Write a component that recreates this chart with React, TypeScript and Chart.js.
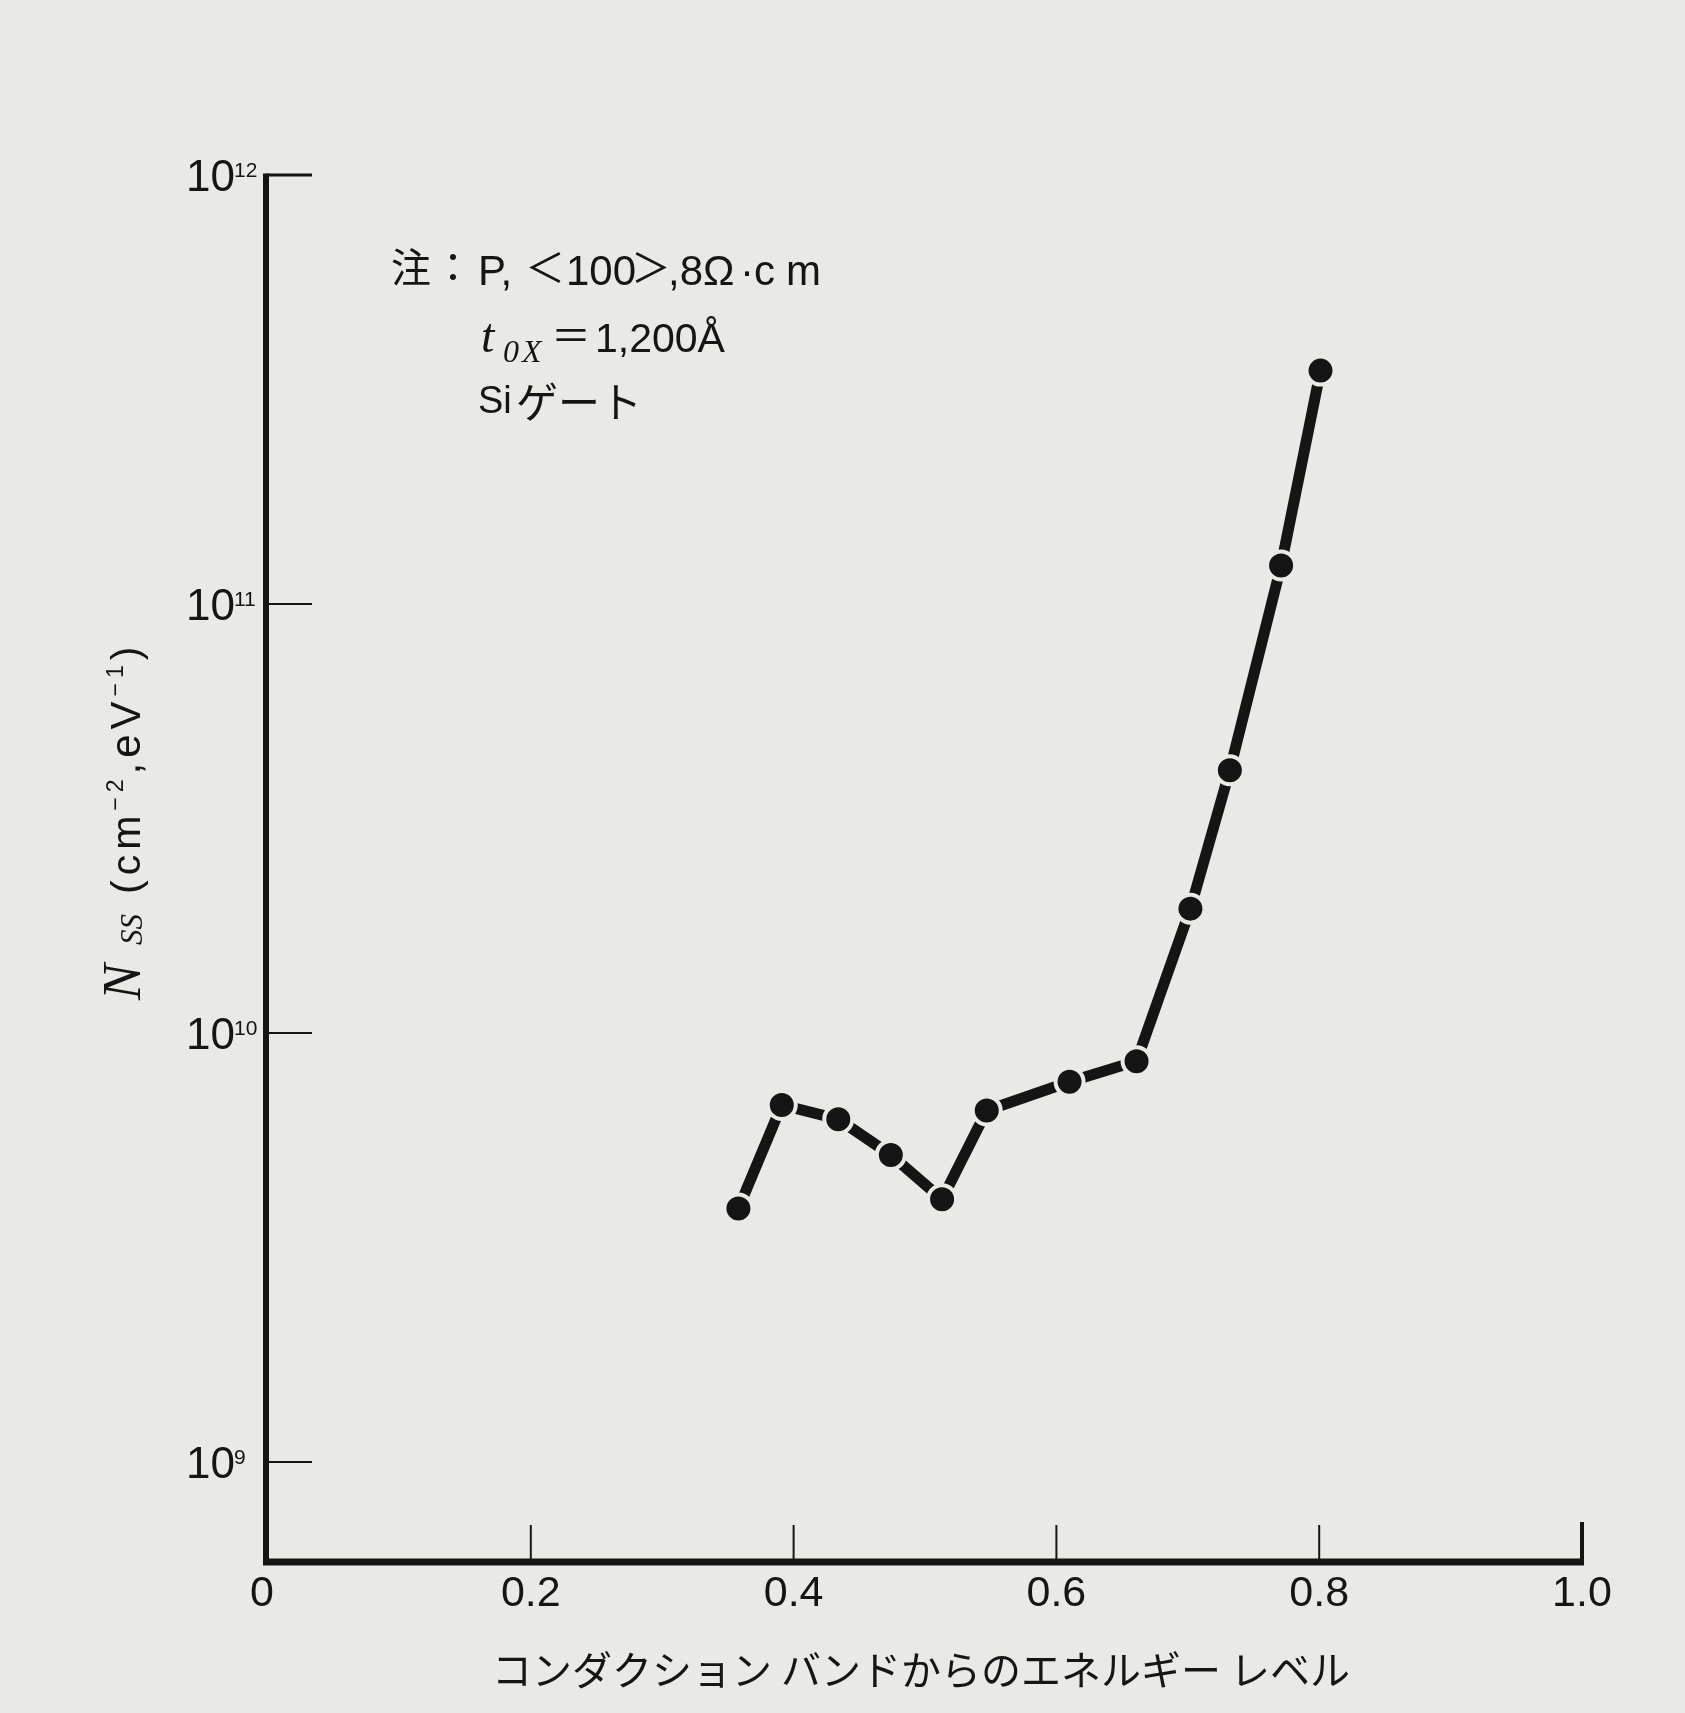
import React, { useEffect, useRef } from "react";
import { Chart, registerables } from "chart.js";

Chart.register(...registerables);

// ---- data ----
const energyLevels = [0.358, 0.391, 0.434, 0.474, 0.513, 0.547, 0.61, 0.661, 0.702, 0.732, 0.771, 0.801];
const nssValues = [3.9e9, 6.8e9, 6.3e9, 5.2e9, 4.1e9, 6.6e9, 7.7e9, 8.6e9, 1.95e10, 4.1e10, 1.23e11, 3.5e11];
const xTickValues = [0, 0.2, 0.4, 0.6, 0.8, 1.0];
const xTickLabels = ["0", "0.2", "0.4", "0.6", "0.8", "1.0"];
const yTickExponents = [9, 10, 11, 12];
const yMin = 5.85e8;
const yMax = 1e12;
const xAxisTitle = "コンダクション バンドからのエネルギー レベル";

// ---- style ----
const PAPER = "#e9e9e6";
const INK = "#151515";
const SANS = "'Liberation Sans', 'Noto Sans CJK JP', sans-serif";
const CJK = "'Noto Sans CJK JP', 'Liberation Sans', sans-serif";
const SERIF = "'Liberation Serif', 'DejaVu Serif', serif";

type Piece = { text: string; font: string; x: number; y: number; spacing?: number };

const notePieces: Piece[] = [
  { text: "注", font: `40px ${CJK}`, x: 391, y: 282 },
  { text: "：", font: `40px ${CJK}`, x: 433, y: 282 },
  { text: "P,", font: `42px ${SANS}`, x: 478, y: 285 },
  { text: "＜", font: `40px ${CJK}`, x: 525, y: 282 },
  { text: "100", font: `42px ${SANS}`, x: 566, y: 285 },
  { text: "＞", font: `40px ${CJK}`, x: 631, y: 282 },
  { text: ",8Ω", font: `42px ${SANS}`, x: 668, y: 285 },
  { text: "·c", font: `42px ${SANS}`, x: 740, y: 285 },
  { text: "m", font: `42px ${SANS}`, x: 786, y: 285 },
  { text: "t", font: `italic 48px ${SERIF}`, x: 481, y: 352 },
  { text: "0X", font: `italic 32px ${SERIF}`, x: 503, y: 362, spacing: 3 },
  { text: "＝", font: `40px ${CJK}`, x: 551, y: 350 },
  { text: "1,200Å", font: `41px ${SANS}`, x: 595, y: 352 },
  { text: "Si", font: `38px ${SANS}`, x: 478, y: 413 },
  { text: "ゲート", font: `42px ${CJK}`, x: 516, y: 418 },
];

// y-axis title: N and SS at given starts (page y, text runs upward), the rest laid out in sequence
const yTitleHead = [
  { text: "N", font: `italic 54px ${SERIF}`, start: 1000, v: 0 },
  { text: "SS", font: `italic 31px ${SERIF}`, start: 945, v: 2 },
];
const yTitleTailStart = 894;
const yTitleTail = [
  { text: "(cm", font: `41px ${SANS}`, v: 0 },
  { text: "−2", font: `23px ${SANS}`, v: -17 },
  { text: ",eV", font: `42px ${SANS}`, v: 0 },
  { text: "−1", font: `23px ${SANS}`, v: -17 },
  { text: ")", font: `41px ${SANS}`, v: 0 },
];

const decorPlugin = {
  id: "decor",
  beforeDraw(chart: any) {
    const ctx = chart.ctx;
    ctx.save();
    ctx.fillStyle = PAPER;
    ctx.fillRect(0, 0, chart.width, chart.height);
    ctx.restore();
  },
  beforeDatasetsDraw(chart: any) {
    const { ctx, chartArea, scales } = chart;
    const xs = scales.x;
    const ys = scales.y;
    const ax = chartArea.left - 2;
    const ay = chartArea.bottom;
    ctx.save();
    ctx.strokeStyle = INK;
    ctx.fillStyle = INK;
    ctx.lineCap = "butt";

    // y axis
    const yTop = ys.getPixelForValue(yMax);
    ctx.lineWidth = 6;
    ctx.beginPath();
    ctx.moveTo(ax, yTop - 1.5);
    ctx.lineTo(ax, ay + 3);
    ctx.stroke();

    // x axis
    const xEnd = xs.getPixelForValue(xTickValues[xTickValues.length - 1]);
    ctx.lineWidth = 7;
    ctx.beginPath();
    ctx.moveTo(ax - 3, ay);
    ctx.lineTo(xEnd + 2, ay);
    ctx.stroke();

    // y ticks + labels
    yTickExponents.forEach((e) => {
      const y = ys.getPixelForValue(Math.pow(10, e));
      ctx.lineWidth = e === 12 ? 3 : 2;
      ctx.beginPath();
      ctx.moveTo(ax, y);
      ctx.lineTo(ax + 46, y);
      ctx.stroke();
      ctx.font = `44px ${SANS}`;
      ctx.textAlign = "right";
      ctx.textBaseline = "middle";
      ctx.fillText("10", ax - 31, y + 4);
      ctx.font = `21px ${SANS}`;
      ctx.textAlign = "left";
      ctx.textBaseline = "alphabetic";
      ctx.fillText(String(e), ax - 32, y + 2);
    });

    // x ticks + labels
    xTickValues.forEach((v, i) => {
      const x = xs.getPixelForValue(v);
      const last = i === xTickValues.length - 1;
      if (v > 0) {
        ctx.lineWidth = last ? 4 : 2;
        ctx.beginPath();
        ctx.moveTo(x, ay);
        ctx.lineTo(x, ay - (last ? 40 : 37));
        ctx.stroke();
      }
      ctx.font = `43px ${SANS}`;
      ctx.textAlign = "center";
      ctx.textBaseline = "middle";
      ctx.fillText(xTickLabels[i], v === 0 ? x - 6 : x, ay + 32);
    });

    // x title
    ctx.font = `40px ${CJK}`;
    ctx.textAlign = "center";
    ctx.textBaseline = "middle";
    ctx.fillText(xAxisTitle, (chartArea.left + chartArea.right) / 2 - 4, 1670);

    // y title (rotated)
    ctx.save();
    ctx.translate(140, 0);
    ctx.rotate(-Math.PI / 2);
    ctx.textAlign = "left";
    ctx.textBaseline = "alphabetic";
    yTitleHead.forEach((p) => {
      ctx.font = p.font;
      ctx.fillText(p.text, -p.start, p.v);
    });
    let u = -yTitleTailStart;
    (ctx as any).letterSpacing = "5px";
    yTitleTail.forEach((p) => {
      ctx.font = p.font;
      ctx.fillText(p.text, u, p.v);
      u += ctx.measureText(p.text).width;
    });
    (ctx as any).letterSpacing = "0px";
    ctx.restore();

    // note text
    ctx.textAlign = "left";
    ctx.textBaseline = "alphabetic";
    notePieces.forEach((p) => {
      ctx.font = p.font;
      (ctx as any).letterSpacing = `${p.spacing || 0}px`;
      ctx.fillText(p.text, p.x, p.y);
    });
    (ctx as any).letterSpacing = "0px";

    ctx.restore();
  },
};

export default function App() {
  const canvasRef = useRef<HTMLCanvasElement | null>(null);

  useEffect(() => {
    const canvas = canvasRef.current;
    if (!canvas) return;
    const chart = new Chart(canvas, {
      type: "line",
      data: {
        datasets: [
          {
            data: energyLevels.map((x, i) => ({ x, y: nssValues[i] })),
            borderColor: INK,
            borderWidth: 11,
            backgroundColor: INK,
            pointBackgroundColor: INK,
            pointBorderColor: PAPER,
            pointBorderWidth: 4,
            pointRadius: 14,
            pointHoverRadius: 14,
            tension: 0,
            fill: false,
            clip: false as any,
          },
        ],
      },
      options: {
        animation: false,
        responsive: false,
        devicePixelRatio: 1,
        layout: { padding: { left: 268, right: 103, top: 175, bottom: 151 } },
        scales: {
          x: { type: "linear", min: 0, max: 1, display: false },
          y: { type: "logarithmic", min: yMin, max: yMax, display: false },
        },
        plugins: {
          legend: { display: false },
          tooltip: { enabled: false },
        },
        events: [],
      },
      plugins: [decorPlugin],
    });
    return () => chart.destroy();
  }, []);

  return (
    <div style={{ position: "absolute", left: 0, top: 0, width: 1685, height: 1713, background: PAPER }}>
      <canvas ref={canvasRef} width={1685} height={1713} style={{ display: "block", width: 1685, height: 1713 }} />
    </div>
  );
}
